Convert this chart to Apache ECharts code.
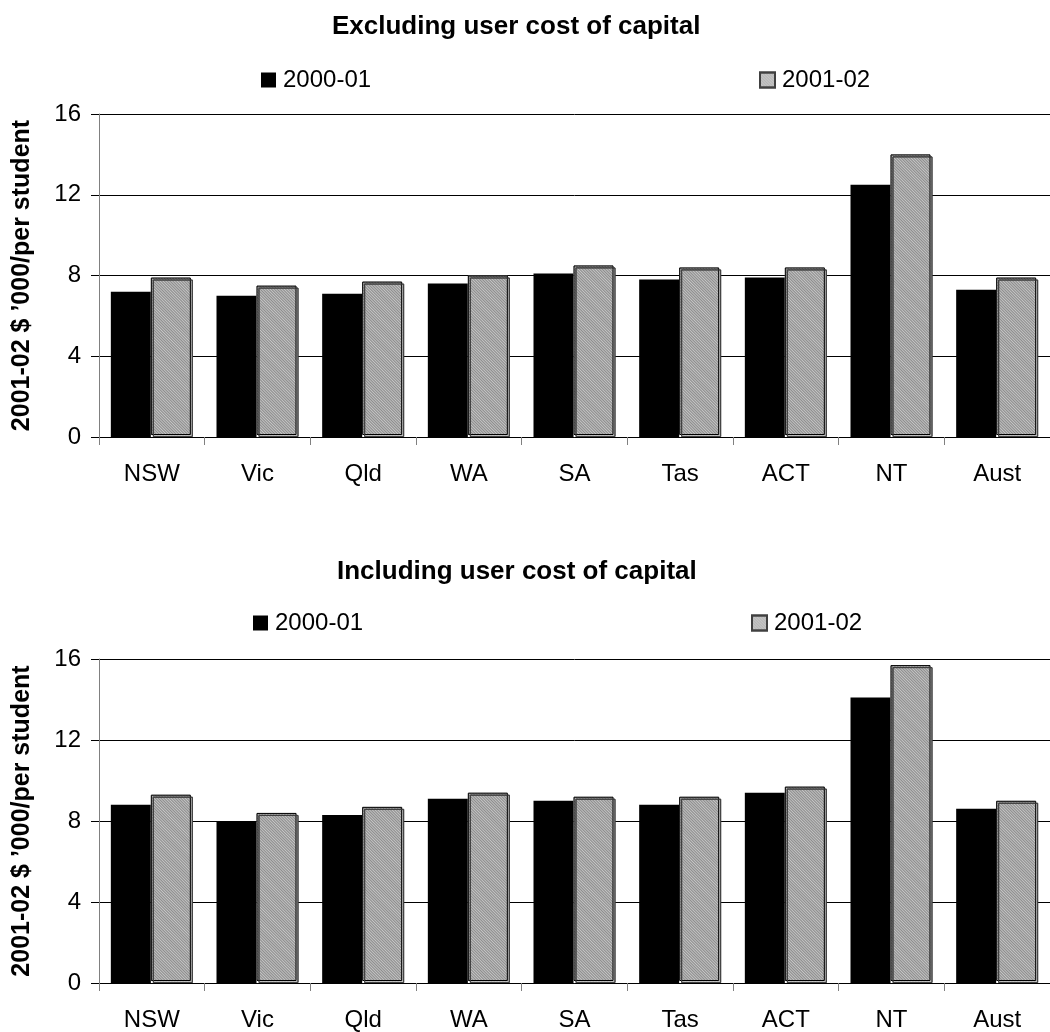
<!DOCTYPE html>
<html>
<head>
<meta charset="utf-8">
<script src="https://cdn.jsdelivr.net/npm/echarts@6/dist/echarts.min.js"></script>
<style>
html, body { margin: 0; padding: 0; background: #fff; }
#main { width: 1050px; height: 1032px; }
</style>
</head>
<body>
<div id="main"></div>
<script>
var categories = ['NSW', 'Vic', 'Qld', 'WA', 'SA', 'Tas', 'ACT', 'NT', 'Aust'];
var seriesNames = ['2000-01', '2001-02'];
var yTicks = [0, 4, 8, 12, 16];

// Excluding user cost of capital
var excl2000 = [7.2, 7.0, 7.1, 7.6, 8.1, 7.8, 7.9, 12.5, 7.3];
var excl2001 = [7.8, 7.4, 7.6, 7.9, 8.4, 8.3, 8.3, 13.9, 7.8];

// Including user cost of capital
var incl2000 = [8.8, 8.0, 8.3, 9.1, 9.0, 8.8, 9.4, 14.1, 8.6];
var incl2001 = [9.2, 8.3, 8.6, 9.3, 9.1, 9.1, 9.6, 15.6, 8.9];

var font = 'Arial, "Liberation Sans", sans-serif';

// gray hatched bars
var grayStyle = {
	color: '#c6c6c6',
	borderColor: '#404040',
	borderWidth: 1,
	shadowColor: '#b4b4b4',
	shadowBlur: 0,
	shadowOffsetX: -2,
	shadowOffsetY: -2,
	decal: {
		symbol: 'rect',
		color: 'rgba(140,140,140,0.28)',
		dashArrayX: [1, 0],
		dashArrayY: [1, 1],
		rotation: Math.PI / 4
	}
};

function xAxisFor(idx) {
	return {
		type: 'category',
		gridIndex: idx,
		data: categories,
		axisLine: { lineStyle: { color: '#000', width: 1 } },
		axisTick: { show: true, length: 8, lineStyle: { color: '#808080' } },
		axisLabel: { color: '#000', fontSize: 24, fontFamily: font, margin: 25 }
	};
}

function yAxisFor(idx) {
	return {
		type: 'value',
		gridIndex: idx,
		min: yTicks[0],
		max: yTicks[yTicks.length - 1],
		interval: 4,
		name: "2001-02 $ \u2019000/per student",
		nameLocation: 'middle',
		nameGap: 64,
		nameTextStyle: { color: '#000', fontSize: 25, fontWeight: 'bold', fontFamily: font },
		axisLine: { show: true, lineStyle: { color: '#808080', width: 1 } },
		axisTick: { show: true, length: 8, lineStyle: { color: '#000' } },
		axisLabel: { color: '#000', fontSize: 24, fontFamily: font, margin: 18 },
		splitLine: { show: true, lineStyle: { color: '#000', width: 1 } }
	};
}

function legendAt(name, left, top) {
	return {
		data: [{ name: name, icon: 'rect' }],
		left: left,
		top: top,
		padding: 0,
		itemWidth: 15,
		itemHeight: 15,
		itemGap: 0,
		selectedMode: false,
		textStyle: { color: '#000', fontSize: 24, fontFamily: font, padding: [0, 0, 0, 2] }
	};
}

var myChart = echarts.init(document.getElementById('main'));

var option = {
	backgroundColor: '#fff',
	animation: false,
	title: [
		{
			text: 'Excluding user cost of capital',
			left: 332, top: 14, padding: 0,
			textStyle: { color: '#000', fontSize: 26, fontWeight: 'bold', fontFamily: font }
		},
		{
			text: 'Including user cost of capital',
			left: 337, top: 559, padding: 0,
			textStyle: { color: '#000', fontSize: 26, fontWeight: 'bold', fontFamily: font }
		}
	],
	legend: [
		legendAt(seriesNames[0], 261, 68),
		legendAt(seriesNames[1], 759, 68),
		legendAt(seriesNames[0], 253, 611),
		legendAt(seriesNames[1], 751, 611)
	],
	grid: [
		{ left: 99, top: 114, width: 956, height: 323 },
		{ left: 99, top: 659, width: 956, height: 324 }
	],
	xAxis: [xAxisFor(0), xAxisFor(1)],
	yAxis: [yAxisFor(0), yAxisFor(1)],
	series: [
		{
			name: seriesNames[0], type: 'bar', xAxisIndex: 0, yAxisIndex: 0,
			barWidth: 40, barGap: '5%',
			itemStyle: { color: '#000' },
			data: excl2000
		},
		{
			name: seriesNames[1], type: 'bar', xAxisIndex: 0, yAxisIndex: 0,
			barWidth: 40, barGap: '5%',
			itemStyle: grayStyle,
			data: excl2001
		},
		{
			name: seriesNames[0], type: 'bar', xAxisIndex: 1, yAxisIndex: 1,
			barWidth: 40, barGap: '5%',
			itemStyle: { color: '#000' },
			data: incl2000
		},
		{
			name: seriesNames[1], type: 'bar', xAxisIndex: 1, yAxisIndex: 1,
			barWidth: 40, barGap: '5%',
			itemStyle: grayStyle,
			data: incl2001
		}
	]
};

myChart.setOption(option);
</script>
</body>
</html>
